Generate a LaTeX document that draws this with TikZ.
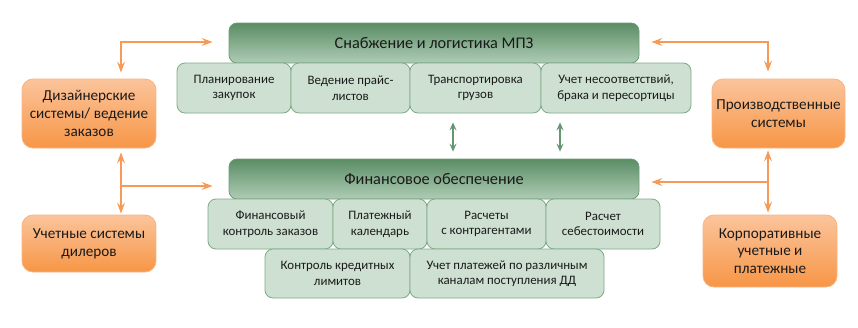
\documentclass[tikz,border=0pt]{standalone}
\usepackage{fontspec}
\setmainfont{Carlito}
\usetikzlibrary{arrows.meta,calc}
\definecolor{hdtop}{HTML}{5B8D65}
\definecolor{hdbot}{HTML}{AFCCB5}
\definecolor{hdline}{HTML}{6E9C78}
\definecolor{subfill}{HTML}{CDE0D1}
\definecolor{subline}{HTML}{7EAA88}
\definecolor{ortop}{HTML}{FBC49C}
\definecolor{orbot}{HTML}{F79646}
\definecolor{orline}{HTML}{F9B483}
\definecolor{oarrow}{HTML}{F79A55}
\definecolor{garrow}{HTML}{65966F}
\definecolor{txt}{HTML}{1A1A1A}
\tikzset{
  header/.style={draw=hdline, line width=0.8pt, rounded corners=8pt, top color=hdtop, bottom color=hdbot,
    minimum width=410pt, minimum height=40pt, font=\fontsize{16.3}{18}\selectfont, text=txt, inner sep=0pt},
  subbox/.style={draw=subline, line width=0.8pt, rounded corners=8pt, fill=subfill,
    minimum height=50pt, align=center, font=\fontsize{12.9}{15.5}\selectfont, text=txt, inner sep=0pt},
  orbox/.style={draw=orline, line width=0.8pt, rounded corners=11pt, top color=ortop, bottom color=orbot,
    align=center, font=\fontsize{15.2}{17.8}\selectfont, text=txt, inner sep=0pt},
  oarr/.style={draw=oarrow, line width=1.3pt, arrows={Stealth[length=11pt,width=8pt,inset=4pt]-Stealth[length=11pt,width=8pt,inset=4pt]}},
  oone/.style={draw=oarrow, line width=1.3pt, arrows={-Stealth[length=11pt,width=8pt,inset=4pt]}},
  garr/.style={draw=garrow, line width=1.4pt, arrows={Stealth[length=8pt,width=7pt,inset=3pt]-Stealth[length=8pt,width=7pt,inset=3pt]}}
}
\begin{document}
\begin{tikzpicture}[x=1pt,y=-1pt]
\useasboundingbox (0,0) rectangle (858,327);
% headers
\node[header] (h1) at (434,43) {Снабжение и логистика МПЗ};
\node[header] (h2) at (434,179) {Финансовое обеспечение};
% row 1
\node[subbox, minimum width=114pt] (s1) at (234,88) {Планирование\\закупок};
\node[subbox, minimum width=119pt] (s2) at (350.5,88) {Ведение прайс-\\листов};
\node[subbox, minimum width=131pt] (s3) at (475.5,88) {Транспортировка\\грузов};
\node[subbox, minimum width=150pt] (s4) at (616,88) {Учет несоответствий,\\брака и пересортицы};
% row 2
\node[subbox, minimum width=125pt] (f1) at (270.5,224) {Финансовый\\контроль заказов};
\node[subbox, minimum width=94pt] (f2) at (380,224) {Платежный\\календарь};
\node[subbox, minimum width=119pt] (f3) at (486.5,224) {Расчеты\\с контрагентами};
\node[subbox, minimum width=114pt] (f4) at (603,224) {Расчет\\себестоимости};
% row 3
\node[subbox, minimum width=145pt, minimum height=49pt] (f5) at (337.5,273.5) {Контроль кредитных\\лимитов};
\node[subbox, minimum width=194pt, minimum height=49pt] (f6) at (507,273.5) {Учет платежей по различным\\каналам поступления ДД};
% orange boxes
\node[orbox, minimum width=134pt, minimum height=69pt] (o1) at (89,113.5) {Дизайнерские\\системы/ ведение\\заказов};
\node[orbox, minimum width=134pt, minimum height=57pt] (o2) at (89,243.5) {Учетные системы\\дилеров};
\node[orbox, minimum width=133pt, minimum height=69pt] (o3) at (778.5,113.5) {Производственные\\системы};
\node[orbox, minimum width=134pt, minimum height=72pt] (o4) at (770,251) {Корпоративные\\учетные и\\платежные};
% helper coordinates
\coordinate (lx) at (121,0);
\coordinate (rx) at (768,0);
\coordinate (lt) at (121,42);
\coordinate (rt) at (768,42);
\coordinate (lm) at (121,186);
\coordinate (rm) at (768,182);
\coordinate (ga) at (453,0);
\coordinate (gb) at (560,0);
% orange connectors
\draw[oarr, shorten <=6pt, shorten >=16pt] (o1.north -| lx) -- (lt) -- (lt -| h1.west);
\draw[oarr, shorten <=7pt, shorten >=12pt] (o3.north -| rx) -- (rt) -- (rt -| h1.east);
\draw[oarr, shorten <=4pt, shorten >=1pt] (o1.south -| lx) -- (o2.north -| lx);
\draw[oone, shorten >=16pt] (lm) -- (lm -| h2.west);
\draw[oarr, shorten <=2pt, shorten >=2pt] (o3.south -| rx) -- (o4.north -| rx);
\draw[oone, shorten >=12pt] (rm) -- (rm -| h2.east);
% green connectors
\draw[garr, shorten <=9pt, shorten >=7pt] (s3.south -| ga) -- (h2.north -| ga);
\draw[garr, shorten <=9pt, shorten >=7pt] (s4.south -| gb) -- (h2.north -| gb);
\end{tikzpicture}
\end{document}
